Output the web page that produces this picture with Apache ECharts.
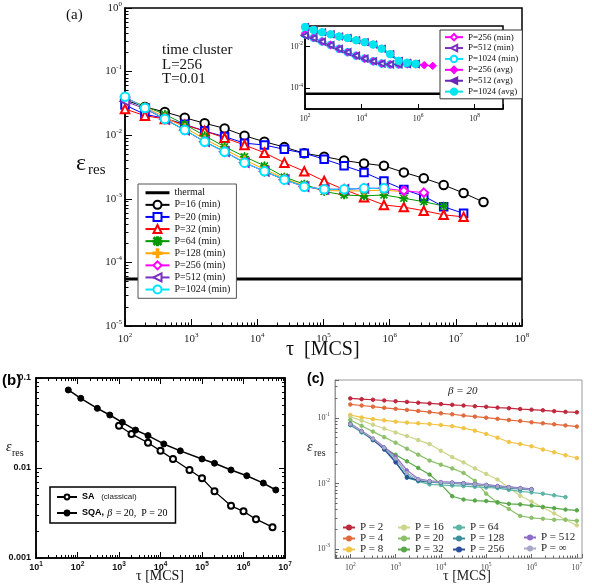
<!DOCTYPE html>
<html>
<head>
<meta charset="utf-8">
<script src="https://cdn.jsdelivr.net/npm/echarts@6/dist/echarts.min.js"></script>
<style>
html, body { margin: 0; padding: 0; background: #fff; }
#main { width: 592px; height: 587px; }
</style>
</head>
<body>
<div id="main"></div>
<script>
// ---- panel (a): time cluster, L=256, T=0.01 ----
var tauA = [100, 200, 400, 800, 1600, 3200, 6400, 12800, 25600, 51200, 102400, 204800,
    409600, 819200, 1638400, 3276800, 6553600, 13107200, 26214400];
var errP16 = [0.0358, 0.0278, 0.0232, 0.0188, 0.0154, 0.0128, 0.0098, 0.0079, 0.0065, 0.0052,
    0.0046, 0.0040, 0.0036, 0.0033, 0.0026, 0.0021, 0.00165, 0.00123, 0.00089];
var errP20 = [0.0298, 0.0213, 0.0184, 0.0148, 0.0116, 0.0095, 0.0075, 0.0070, 0.0060, 0.0052,
    0.0042, 0.0033, 0.0026, 0.0019, 0.0014, 0.0011, 0.00075, 0.00059];
var errP32 = [0.0258, 0.0203, 0.0180, 0.0145, 0.0116, 0.0091, 0.0070, 0.0053, 0.0037, 0.0027,
    0.0019, 0.0014, 0.00106, 0.0008, 0.00074, 0.00065, 0.00056, 0.00052];
var errP64 = [0.0385, 0.0285, 0.0213, 0.0148, 0.0098, 0.0066, 0.0046, 0.0033, 0.0022, 0.0017,
    0.0013, 0.00115, 0.00111, 0.00115, 0.00102, 0.0009, 0.00077];
var errP128 = [0.0395, 0.0276, 0.0193, 0.0132, 0.0087, 0.0060, 0.0041, 0.0029, 0.0021, 0.0016,
    0.00135, 0.00133, 0.00133, 0.00137, 0.00129];
var errP256 = [0.0400, 0.0268, 0.0180, 0.0121, 0.0079, 0.0055, 0.0037, 0.0027, 0.0020, 0.00155,
    0.00141, 0.00141, 0.00146, 0.00146, 0.00134, 0.00125];
var errP512 = [0.0340, 0.0262, 0.0178, 0.0120, 0.0079, 0.0055, 0.0037, 0.0027, 0.0020, 0.00155,
    0.00141, 0.00141, 0.00146, 0.00146];
var errP1024 = [0.0403, 0.0268, 0.0180, 0.0121, 0.0079, 0.0055, 0.0037, 0.0027, 0.0020, 0.00155,
    0.00141, 0.00141, 0.00146, 0.00146];
var thermal = [5.5e-5];
var thermalSpan = [1e2, 1e8];
var thermalSpanInset = [1e2, 1e9];

// inset: averaged values
var avgP1024 = [0.0895, 0.0642, 0.0497, 0.0398, 0.0312, 0.0264, 0.0205, 0.0166, 0.0128, 0.0081,
    0.0044, 0.0021, 0.0017, 0.0015];
var avgP512 = [0.0895, 0.0642, 0.0497, 0.0398, 0.0312, 0.0264, 0.0205, 0.0166, 0.0128, 0.0081,
    0.0044, 0.0021, 0.0017, 0.0015];
var avgP256 = [0.0895, 0.0642, 0.0497, 0.0398, 0.0312, 0.0264, 0.0205, 0.0166, 0.0128, 0.0081,
    0.0044, 0.0021, 0.0017, 0.0015, 0.0013, 0.0012];

// ---- panel (b): SA vs SQA ----
var tauSA = [1e3, 2e3, 5e3, 1e4, 2e4, 5e4, 1e5, 2e5, 5e5, 1e6, 2e6, 5e6];
var errSA = [0.0295, 0.0239, 0.0191, 0.0155, 0.0126, 0.0095, 0.0077, 0.0055, 0.0038, 0.0033, 0.0027, 0.0022];
var tauSQA = [60, 120, 300, 600, 1200, 2500, 5000, 12000, 30000, 1e5, 2e5, 5e5, 1.2e6, 3e6, 6e6];
var errSQA = [0.0736, 0.0595, 0.046, 0.0388, 0.0322, 0.0264, 0.0229, 0.0185, 0.0155, 0.0126,
    0.0113, 0.0095, 0.0082, 0.0068, 0.0057];

// ---- panel (c): beta = 20, different P ----
var tauC = [100, 178, 316, 562, 1000, 1778, 3162, 5623, 10000, 17783, 31623, 56234, 100000,
    177828, 316228, 562341, 1000000, 1778279, 3162278, 5623413, 10000000];
var cP2 = [0.199, 0.194, 0.190, 0.185, 0.180, 0.176, 0.171, 0.167, 0.163, 0.159, 0.155, 0.151,
    0.148, 0.144, 0.141, 0.137, 0.134, 0.131, 0.127, 0.124, 0.122];
var cP4 = [0.161, 0.155, 0.149, 0.143, 0.138, 0.133, 0.128, 0.123, 0.118, 0.114, 0.109, 0.105,
    0.101, 0.097, 0.093, 0.090, 0.086, 0.083, 0.080, 0.077, 0.074];
var cP8 = [0.111, 0.102, 0.096, 0.092, 0.088, 0.085, 0.083, 0.081, 0.078, 0.075, 0.070, 0.064,
    0.057, 0.050, 0.043, 0.040, 0.037, 0.033, 0.030, 0.027, 0.0245];
var cP16 = [0.104, 0.091, 0.079, 0.069, 0.060, 0.053, 0.046, 0.040, 0.0316, 0.0253, 0.021, 0.017,
    0.014, 0.0115, 0.0087, 0.0065, 0.0053, 0.0043, 0.0035, 0.0028, 0.0023];
var cP20 = [0.093, 0.076, 0.062, 0.051, 0.042, 0.034, 0.0276, 0.0224, 0.0194, 0.017, 0.0145,
    0.011, 0.0070, 0.0051, 0.0041, 0.0032, 0.0030, 0.0029, 0.0028, 0.0028, 0.0027];
var cP32 = [0.083, 0.062, 0.046, 0.0347, 0.0275, 0.0218, 0.0173, 0.0137, 0.0097, 0.0064, 0.0057,
    0.0055, 0.0054, 0.0052, 0.0049, 0.0048, 0.0046, 0.0044, 0.0042, 0.0040, 0.0039];
var cP64 = [0.078, 0.060, 0.047, 0.0347, 0.0245, 0.0137, 0.0108, 0.0097, 0.0095, 0.0093, 0.0091,
    0.0089, 0.0087, 0.0085, 0.0080, 0.0076, 0.0073, 0.0070, 0.0066, 0.0062];
var cP128 = [0.078, 0.062, 0.046, 0.0347, 0.0218, 0.0122, 0.0110, 0.0105, 0.0102, 0.0100, 0.0098,
    0.0095, 0.0092, 0.0088, 0.0085, 0.0082, 0.0080];
var cP256 = [0.080, 0.063, 0.047, 0.0330, 0.0210, 0.0125, 0.0112, 0.0108, 0.0105, 0.0103, 0.0101,
    0.0098, 0.0095, 0.0091, 0.0088, 0.0085, 0.0082];
var cP512 = [0.082, 0.064, 0.049, 0.0360, 0.0260, 0.0160, 0.0118, 0.0110, 0.0106, 0.0104, 0.0102,
    0.0099, 0.0096, 0.0092, 0.0089, 0.0086, 0.0083];
var cPinf = [0.080, 0.063, 0.048, 0.0350, 0.0240, 0.0145, 0.0115, 0.0108, 0.0104, 0.0102, 0.0100,
    0.0097, 0.0094, 0.0090, 0.0087, 0.0084, 0.0081];

var SERIF = 'Liberation Serif';
var SANS = 'Liberation Sans';

var plusPath = 'path://M4,0h2v4h4v2h-4v4h-2v-4h-4v-2h4z';
var starPath = 'path://M4.4,0h1.2v4.4h4.4v1.2h-4.4v4.4h-1.2v-4.4h-4.4v-1.2h4.4z' +
    'M1.4,0.6L9.4,8.6L8.6,9.4L0.6,1.4z M8.6,0.6L9.4,1.4L1.4,9.4L0.6,8.6z';

function pairs(xs, ys) {
    return ys.map(function (y, i) { return [xs[i], y]; });
}

function powLabel(v) {
    var e = Math.log10(v);
    var r = Math.round(e);
    if (Math.abs(e - r) > 1e-6) return '';
    return '{m|10}{s|' + r + '}';
}

function evenPowLabel(v) {
    var e = Math.log10(v);
    var r = Math.round(e);
    if (Math.abs(e - r) > 1e-6 || r % 2 !== 0) return '';
    return '{m|10}{s|' + r + '}';
}

function line(name, gi, xs, ys, color, symbol, size, extra) {
    var s = {
        name: name, type: 'line', xAxisIndex: gi, yAxisIndex: gi,
        data: pairs(xs, ys), symbol: symbol, symbolSize: size,
        lineStyle: { color: color, width: 1 },
        itemStyle: { color: color, borderColor: color, borderWidth: 1 },
        emphasis: { disabled: true }, animation: false
    };
    for (var k in extra) s[k] = extra[k];
    return s;
}

var myChart = echarts.init(document.getElementById('main'), null, { renderer: 'canvas' });

var richA = {
    m: { fontFamily: SERIF, fontSize: 11, color: '#222' },
    s: { fontFamily: SERIF, fontSize: 7, color: '#222', padding: [0, 0, 8, 0] }
};
var richInset = {
    m: { fontFamily: SERIF, fontSize: 8, color: '#222' },
    s: { fontFamily: SERIF, fontSize: 5.5, color: '#222', padding: [0, 0, 6, 0] }
};
var richB = {
    m: { fontFamily: SANS, fontWeight: 'bold', fontSize: 9, color: '#111' },
    s: { fontFamily: SANS, fontWeight: 'bold', fontSize: 6.5, color: '#111', padding: [0, 0, 7, 0] }
};
var richC = {
    m: { fontFamily: SERIF, fontSize: 8, color: '#444' },
    s: { fontFamily: SERIF, fontSize: 5.5, color: '#444', padding: [0, 0, 6, 0] }
};

function logAxis(gi, min, max, pos, rich, margin, opt) {
    var a = {
        gridIndex: gi, type: 'log', logBase: 10, min: min, max: max, position: pos,
        axisLine: { show: true, onZero: false, lineStyle: { color: '#000', width: 1.5 } },
        axisTick: { show: true, inside: true, length: 7, lineStyle: { color: '#000', width: 1 } },
        minorTick: { show: true, splitNumber: 9, length: 3.5, lineStyle: { color: '#000', width: 1 } },
        splitLine: { show: false },
        axisLabel: rich ? { show: true, margin: margin, formatter: powLabel, rich: rich } : { show: false }
    };
    for (var k in opt) a[k] = opt[k];
    return a;
}

function cLegend(left, top, names) {
    return {
        orient: 'vertical', left: left, top: top, padding: 0, itemGap: 0, itemWidth: 12, itemHeight: 5,
        selectedMode: false,
        textStyle: { fontFamily: SERIF, fontSize: 11, lineHeight: 10, color: '#222' },
        data: names
    };
}

var option = {
    backgroundColor: '#fff',
    animation: false,
    grid: [
        { left: 125, top: 8, width: 397, height: 318, show: true, borderColor: '#000', borderWidth: 1.5, backgroundColor: '#fff' },
        { left: 305, top: 26, width: 198, height: 83, show: true, borderColor: '#000', borderWidth: 1.5, backgroundColor: '#fff' },
        { left: 36, top: 378, width: 249, height: 180, show: true, borderColor: '#000', borderWidth: 1.5 },
        { left: 335, top: 380, width: 247, height: 178, show: true, borderColor: '#999', borderWidth: 1 }
    ],
    xAxis: [
        logAxis(0, 1e2, 1e8, 'bottom', richA, 6),
        logAxis(1, 1e2, 1e9, 'bottom', null, 4, {
            logBase: 100, minorTick: { show: false },
            axisTick: { show: true, inside: true, length: 5, lineStyle: { color: '#000' } },
            axisLabel: { show: true, margin: 4, formatter: evenPowLabel, rich: richInset }
        }),
        logAxis(2, 1e1, 1e7, 'bottom', richB, 3, {
            axisTick: { show: true, inside: true, length: 6, lineStyle: { color: '#000' } },
            minorTick: { show: true, splitNumber: 9, length: 3, lineStyle: { color: '#000' } }
        }),
        logAxis(3, 46, 1.3e7, 'bottom', richC, 4, {
            axisLine: { show: true, lineStyle: { color: '#999', width: 1 } },
            axisTick: { show: true, inside: true, length: 4, lineStyle: { color: '#666' } },
            minorTick: { show: true, splitNumber: 9, length: 2.5, lineStyle: { color: '#666' } }
        }),
        logAxis(2, 1e1, 1e7, 'top', null, 0, {
            axisTick: { show: true, inside: true, length: 6, lineStyle: { color: '#000' } },
            minorTick: { show: true, splitNumber: 9, length: 3, lineStyle: { color: '#000' } }
        })
    ],
    yAxis: [
        logAxis(0, 1e-5, 1, 'left', richA, 3),
        logAxis(1, 1e-5, 1e-1, 'left', null, 2, {
            logBase: 100, minorTick: { show: false },
            axisTick: { show: true, inside: true, length: 5, lineStyle: { color: '#000' } },
            axisLabel: { show: true, margin: 2, formatter: evenPowLabel, rich: richInset }
        }),
        logAxis(2, 1e-3, 1e-1, 'left', null, 5, {
            axisLabel: {
                show: true, margin: 5,
                formatter: function (v) {
                    var r = Math.round(Math.log10(v));
                    return ['0.001', '0.01', '0.1'][r + 3] || '';
                },
                fontFamily: SANS, fontWeight: 'bold', fontSize: 9, color: '#111'
            },
            axisTick: { show: true, inside: true, length: 6, lineStyle: { color: '#000' } },
            minorTick: { show: true, splitNumber: 9, length: 3, lineStyle: { color: '#000' } }
        }),
        logAxis(3, 7.3e-4, 0.38, 'left', richC, 5, {
            axisLine: { show: true, lineStyle: { color: '#999', width: 1 } },
            axisTick: { show: true, inside: true, length: 4, lineStyle: { color: '#666' } },
            minorTick: { show: true, splitNumber: 9, length: 2.5, lineStyle: { color: '#666' } }
        }),
        logAxis(2, 1e-3, 1e-1, 'right', null, 0, {
            axisTick: { show: true, inside: true, length: 6, lineStyle: { color: '#000' } },
            minorTick: { show: true, splitNumber: 9, length: 3, lineStyle: { color: '#000' } }
        })
    ],
    legend: [
        {
            orient: 'vertical', left: 138, top: 184, padding: [3, 6, 3, 6], itemGap: 0.6,
            itemWidth: 24, itemHeight: 10, borderColor: '#555', borderWidth: 1, backgroundColor: '#fff',
            selectedMode: false,
            textStyle: { fontFamily: SERIF, fontSize: 10, lineHeight: 11.5, color: '#111' },
            data: [{ name: 'thermal', itemStyle: { opacity: 0 }, lineStyle: { width: 3, color: '#000' } },
                'P=16 (min)', 'P=20 (min)', 'P=32 (min)', 'P=64 (min)',
                'P=128 (min)', 'P=256 (min)', 'P=512 (min)', 'P=1024 (min)']
        },
        {
            orient: 'vertical', left: 440, top: 30, padding: [2, 4, 2, 4], itemGap: 0.6,
            itemWidth: 18, itemHeight: 8, borderColor: '#333', borderWidth: 1, backgroundColor: '#fff',
            selectedMode: false,
            textStyle: { fontFamily: SERIF, fontSize: 9, lineHeight: 10.3, color: '#111' },
            data: ['P=256 (min)', 'P=512 (min)', 'P=1024 (min)', 'P=256 (avg)', 'P=512 (avg)', 'P=1024 (avg)']
        },
        {
            orient: 'vertical', left: 50, top: 487, padding: [4, 8, 4, 6], itemGap: 4,
            itemWidth: 20, itemHeight: 6, borderColor: '#000', borderWidth: 1.5, backgroundColor: '#fff',
            selectedMode: false,
            data: ['SA', 'SQA'],
            formatter: function (n) {
                return n === 'SA' ? '{b|SA}  {n|(classical)}' : '{b|SQA,} {i|\u03b2} {t|= 20,  P = 20}';
            },
            textStyle: {
                rich: {
                    b: { fontFamily: SANS, fontWeight: 'bold', fontSize: 9, color: '#000' },
                    n: { fontFamily: SANS, fontSize: 8, color: '#222' },
                    i: { fontFamily: SERIF, fontStyle: 'italic', fontSize: 10, color: '#000' },
                    t: { fontFamily: SERIF, fontSize: 10, color: '#000' }
                }
            }
        },
        cLegend(342, 522, ['P = 2', 'P = 4', 'P = 8']),
        cLegend(397, 522, ['P = 16', 'P = 20', 'P = 32']),
        cLegend(452, 522, ['P = 64', 'P = 128', 'P = 256']),
        cLegend(523, 532, ['P = 512', 'P = \u221e'])
    ],
    graphic: [
        { type: 'text', left: 66, top: 8, style: { text: '(a)', font: '15px "Liberation Serif"', fill: '#111' } },
        { type: 'text', left: 162, top: 43, style: { text: 'time cluster', font: '15px "Liberation Serif"', fill: '#111' } },
        { type: 'text', left: 162, top: 58, style: { text: 'L=256', font: '15px "Liberation Serif"', fill: '#111' } },
        { type: 'text', left: 162, top: 72, style: { text: 'T=0.01', font: '15px "Liberation Serif"', fill: '#111' } },
        { type: 'text', left: 76, top: 152, style: { text: '\u03b5', font: '24px "Liberation Serif"', fill: '#111' } },
        { type: 'text', left: 88, top: 163, style: { text: 'res', font: '15px "Liberation Serif"', fill: '#111' } },
        { type: 'text', left: 286, top: 340, style: { text: '\u03c4  [MCS]', font: '20px "Liberation Serif"', fill: '#111' } },

        { type: 'text', left: 2, top: 373, style: { text: '(b)', font: 'bold 15px "Liberation Sans"', fill: '#000' } },
        { type: 'text', left: 6, top: 440, style: { text: '\u03b5', font: 'italic 14px "Liberation Serif"', fill: '#111' } },
        { type: 'text', left: 12, top: 448, style: { text: 'res', font: '10px "Liberation Serif"', fill: '#111' } },
        { type: 'text', left: 136, top: 569, style: { text: '\u03c4 [MCS]', font: '14px "Liberation Serif"', fill: '#111' } },

        { type: 'text', left: 307, top: 372, style: { text: '(c)', font: 'bold 14px "Liberation Sans"', fill: '#000' } },
        { type: 'text', left: 448, top: 386, style: { text: '\u03b2 = 20', font: 'italic 11px "Liberation Serif"', fill: '#222' } },
        { type: 'text', left: 307, top: 440, style: { text: '\u03b5', font: 'italic 14px "Liberation Serif"', fill: '#222' } },
        { type: 'text', left: 314, top: 448, style: { text: 'res', font: '10px "Liberation Serif"', fill: '#222' } },
        { type: 'text', left: 443, top: 569, style: { text: '\u03c4 [MCS]', font: '14px "Liberation Serif"', fill: '#222' } }
    ],
    series: [
        // (a) main
        line('thermal', 0, thermalSpan, [thermal[0], thermal[0]], '#000', 'none', 0, { lineStyle: { color: '#000', width: 3 } }),
        line('P=16 (min)', 0, tauA, errP16, '#000', 'emptyCircle', 8.5),
        line('P=20 (min)', 0, tauA, errP20, '#0000ff', 'emptyRect', 7.5),
        line('P=32 (min)', 0, tauA, errP32, '#ff0000', 'emptyTriangle', 8.5),
        line('P=64 (min)', 0, tauA, errP64, '#009a00', starPath, 8),
        line('P=128 (min)', 0, tauA, errP128, '#ffa500', plusPath, 8),
        line('P=256 (min)', 0, tauA, errP256, '#ff00ff', 'emptyDiamond', 8.5),
        line('P=512 (min)', 0, tauA, errP512, '#7b2fbf', 'emptyTriangle', 8.5, { symbolRotate: 90 }),
        line('P=1024 (min)', 0, tauA, errP1024, '#00e5ff', 'emptyCircle', 8.5),

        // (a) inset
        line('thermal', 1, thermalSpanInset, [thermal[0], thermal[0]], '#000', 'none', 0, { lineStyle: { color: '#000', width: 2.5 } }),
        line('P=1024 (min)', 1, tauA, errP1024, '#00e5ff', 'emptyCircle', 6.5),
        line('P=256 (min)', 1, tauA, errP256.slice(0, 14), '#ff00ff', 'emptyDiamond', 6),
        line('P=512 (min)', 1, tauA, errP512, '#5a3cc0', 'emptyTriangle', 6, { symbolRotate: 90 }),
        line('P=256 (avg)', 1, tauA, avgP256, '#ff00ff', 'diamond', 7.5, { lineStyle: { color: '#ff00ff', width: 1.5 } }),
        line('P=512 (avg)', 1, tauA, avgP512, '#6a28b8', 'triangle', 7.5, { symbolRotate: 90, lineStyle: { color: '#6a28b8', width: 1.5 } }),
        line('P=1024 (avg)', 1, tauA, avgP1024, '#00e5ee', 'circle', 7.5, { lineStyle: { color: '#00e5ee', width: 2 } }),

        // (b)
        line('SA', 2, tauSA, errSA, '#000', 'emptyCircle', 6, { lineStyle: { color: '#000', width: 1.3 } }),
        line('SQA', 2, tauSQA, errSQA, '#000', 'circle', 6, { lineStyle: { color: '#000', width: 1.5 } }),

        // (c)
        line('P = 2', 3, tauC, cP2, '#c0273d', 'circle', 3.5, { lineStyle: { color: '#c0273d', width: 1.2 } }),
        line('P = 4', 3, tauC, cP4, '#e06a3b', 'circle', 3.5, { lineStyle: { color: '#e06a3b', width: 1.2 } }),
        line('P = 8', 3, tauC, cP8, '#f2c444', 'circle', 3.5, { lineStyle: { color: '#f2c444', width: 1.2 } }),
        line('P = 16', 3, tauC, cP16, '#cdd58a', 'circle', 3.5, { lineStyle: { color: '#cdd58a', width: 1.2 } }),
        line('P = 20', 3, tauC, cP20, '#8cc06a', 'circle', 3.5, { lineStyle: { color: '#8cc06a', width: 1.2 } }),
        line('P = 32', 3, tauC, cP32, '#5aa84a', 'circle', 3.5, { lineStyle: { color: '#5aa84a', width: 1.2 } }),
        line('P = 64', 3, tauC, cP64, '#5ab5a5', 'circle', 3.5, { lineStyle: { color: '#5ab5a5', width: 1.2 } }),
        line('P = 128', 3, tauC, cP128, '#3a8f9c', 'circle', 3.5, { lineStyle: { color: '#3a8f9c', width: 1.2 } }),
        line('P = 256', 3, tauC, cP256, '#2a4f9c', 'circle', 3.5, { lineStyle: { color: '#2a4f9c', width: 1.2 } }),
        line('P = 512', 3, tauC, cP512, '#8b6cc8', 'circle', 3, { lineStyle: { color: '#8b6cc8', width: 1.2 } }),
        line('P = \u221e', 3, tauC, cPinf, '#a8a8c8', 'circle', 3, { lineStyle: { color: '#a8a8c8', width: 1.2 } })
    ]
};

myChart.setOption(option);
</script>
</body>
</html>
